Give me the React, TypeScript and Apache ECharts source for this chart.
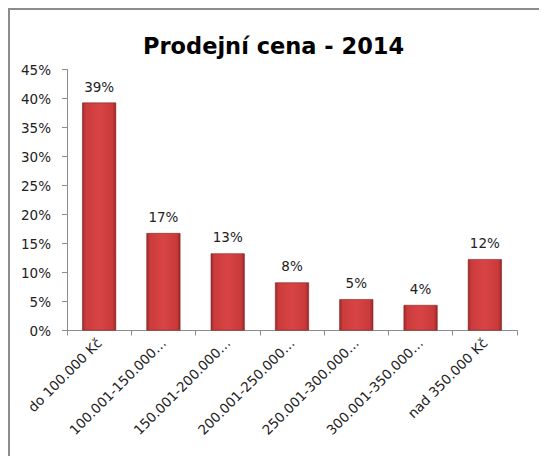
import React, { useEffect, useRef } from "react";
import * as echarts from "echarts";

const titleText = "Prodejní cena - 2014";
const categories = [
  "do 100.000 Kč",
  "100.001-150.000…",
  "150.001-200.000…",
  "200.001-250.000…",
  "250.001-300.000…",
  "300.001-350.000…",
  "nad 350.000 Kč",
];
const shares = [39.3, 16.8, 13.3, 8.3, 5.4, 4.4, 12.3];
const yMin = 0;
const yMax = 45;
const yStep = 5;

export default function App() {
  const ref = useRef<HTMLDivElement>(null);
  useEffect(() => {
    const chart = echarts.init(ref.current!, null, { renderer: "svg" });
    const font = "'DejaVu Sans', sans-serif";
    chart.setOption({
      animation: false,
      title: {
        text: titleText,
        left: 128,
        top: 19,
        textStyle: { fontFamily: font, fontSize: 22.5, fontWeight: "bold", color: "#000" },
      },
      grid: { left: 57, top: 59.5, width: 450, height: 261, containLabel: false },
      xAxis: {
        type: "category",
        data: categories,
        axisLine: { show: true, lineStyle: { color: "#8c8c8c", width: 1 } },
        axisTick: { show: true, alignWithLabel: false, length: 5, lineStyle: { color: "#8c8c8c" } },
        axisLabel: {
          interval: 0,
          rotate: 45,
          margin: 10,
          color: "#222",
          fontFamily: font,
          fontSize: 13.5,
        },
      },
      yAxis: {
        type: "value",
        min: yMin,
        max: yMax,
        interval: yStep,
        splitLine: { show: false },
        axisLine: { show: true, lineStyle: { color: "#8c8c8c", width: 1 } },
        axisTick: { show: true, length: 5, lineStyle: { color: "#8c8c8c" } },
        axisLabel: {
          margin: 16,
          color: "#222",
          fontFamily: font,
          fontSize: 13.5,
          formatter: (v: number) => v + "%",
        },
      },
      series: [
        {
          type: "bar",
          data: shares,
          barWidth: 34,
          itemStyle: {
            borderColor: "#8a2424",
            borderWidth: 0.6,
            color: new echarts.graphic.LinearGradient(0, 0, 1, 0, [
              { offset: 0, color: "#9c2a2a" },
              { offset: 0.1, color: "#cc3c3c" },
              { offset: 0.5, color: "#d84444" },
              { offset: 0.9, color: "#c93a3a" },
              { offset: 1, color: "#982828" },
            ]),
          },
          label: {
            show: true,
            position: "top",
            distance: 9,
            color: "#222",
            fontFamily: font,
            fontSize: 13.5,
            formatter: (p: any) => Math.round(p.value) + "%",
          },
        },
      ],
    });
    return () => chart.dispose();
  }, []);
  return (
    <div
      ref={ref}
      style={{
        width: 535,
        height: 446,
        borderTop: "2px solid #8c8c8c",
        borderLeft: "2px solid #8c8c8c",
        borderRight: "2px solid #8c8c8c",
      }}
    />
  );
}
